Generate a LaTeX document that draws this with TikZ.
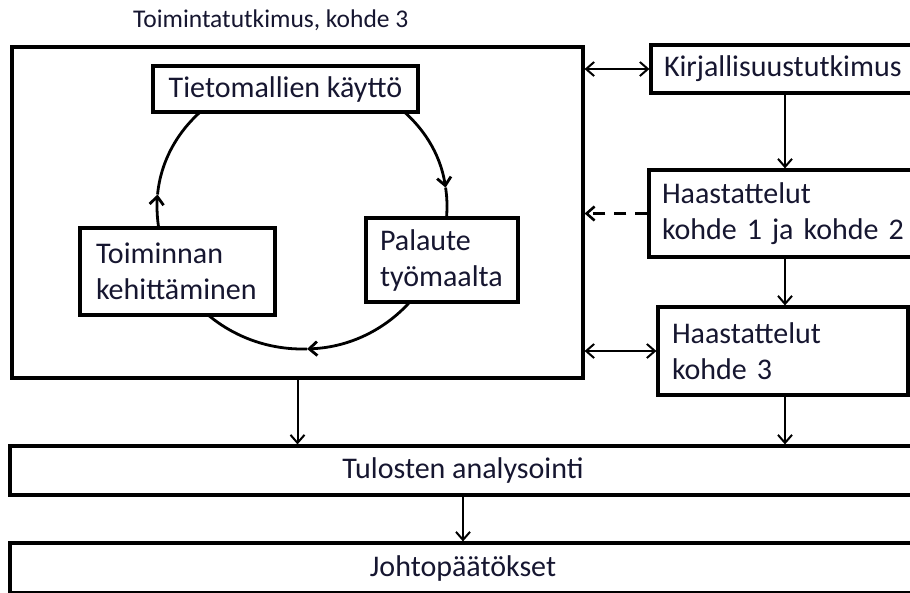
\documentclass[tikz,border=0pt]{standalone}
\usepackage{fontspec}
\setmainfont{Carlito}
\usetikzlibrary{arrows.meta,calc}
\definecolor{ink}{RGB}{22,22,48}
\begin{document}
\begin{tikzpicture}[x=1pt,y=1pt,
  txt/.style={text=ink, font=\fontsize{30}{36}\selectfont},
  box/.style={txt, draw=black, line width=3.2pt, fill=white, inner sep=0pt},
  tip/.style={-{Straight Barb[length=8pt,width=14pt]}},
  link/.style={line width=2pt, tip},
  both/.style={line width=2pt, {Straight Barb[length=8pt,width=14pt]}-{Straight Barb[length=8pt,width=14pt]}},
  loopline/.style={line width=2.8pt},
  looparrow/.style={loopline, tip},
]
\useasboundingbox (0,0) rectangle (910,-592);
\clip (0,0) rectangle (910,-592);
\fill[white] (0,0) rectangle (910,-592);

% heading above the action research frame
\node[text=ink, font=\fontsize{25.5}{30}\selectfont, anchor=base west, inner sep=0pt] (title)
  at (133,-27) {Toimintatutkimus, kohde 3};

% action research frame
\node[box, minimum width=571, minimum height=331] (main) at (297.5,-212.5) {};

% development cycle (drawn first so the boxes cover its ends):
% upper half flatter than lower half
\coordinate (cyc) at (302,-206);
\draw[looparrow] ([shift={(90:145pt and 132pt)}]cyc)
  arc[start angle=90, end angle=8, x radius=145pt, y radius=132pt];
\draw[loopline] ([shift={(8:145pt and 132pt)}]cyc)
  arc[start angle=8, end angle=0, x radius=145pt, y radius=132pt];
\draw[looparrow] ([shift={(0:145pt and 143pt)}]cyc)
  arc[start angle=0, end angle=-88, x radius=145pt, y radius=143pt];
\draw[loopline] ([shift={(-88:145pt and 143pt)}]cyc)
  arc[start angle=-88, end angle=-180, x radius=145pt, y radius=143pt];
\draw[looparrow] ([shift={(180:145pt and 132pt)}]cyc)
  arc[start angle=180, end angle=175, x radius=145pt, y radius=132pt];
\draw[loopline] ([shift={(175:145pt and 132pt)}]cyc)
  arc[start angle=175, end angle=90, x radius=145pt, y radius=132pt];

% cycle stages
\node[box, minimum width=265, minimum height=46] (tiet) at (285.5,-89) {Tietomallien käyttö};
\node[box, minimum width=195, minimum height=87, inner xsep=16pt, text width=163pt, align=left]
  (toim) at (177.5,-271.5) {\mbox{Toiminnan}\\\mbox{kehittäminen}};
\node[box, minimum width=152, minimum height=84, inner xsep=14pt, text width=124pt, align=left]
  (pal) at (442,-260) {\mbox{Palaute}\\\mbox{työmaalta}};

% research sources on the right
\node[box, minimum width=269, minimum height=48, inner xsep=13pt, text width=243pt, align=left]
  (kirj) at (785.5,-69) {\mbox{Kirjallisuustutkimus}};
\node[box, minimum width=271, minimum height=87, inner xsep=13pt, text width=245pt, align=left]
  (k12) at (784.5,-213.5) {\mbox{Haastattelut}\\\mbox{kohde 1 ja kohde 2}};
\node[box, minimum width=250, minimum height=88, inner xsep=14pt, text width=222pt, align=left]
  (k3) at (783,-351) {\mbox{Haastattelut}\\\mbox{kohde 3}};

% analysis and conclusions
\node[box, minimum width=906, minimum height=49] (tul) at (463,-470.5) {Tulosten analysointi};
\node[box, minimum width=906, minimum height=50] (joh) at (463,-568) {Johtopäätökset};

% connectors
\coordinate (col) at (785,0);
\draw[both] (main.east |- kirj.west) -- (kirj.west);
\draw[link] (kirj.south -| col) -- (k12.north -| col);
\draw[link, line width=2.6pt, dash pattern=on 12pt off 9pt] (k12.west) -- (k12.west -| main.east);
\draw[link] (k12.south -| col) -- (k3.north -| col);
\draw[both] (main.east |- k3.west) -- (k3.west);
\draw[link] (main.south) -- (main.south |- tul.north);
\draw[link] (k3.south -| col) -- (tul.north -| col);
\draw[link] (tul.south) -- (joh.north);
\end{tikzpicture}
\end{document}
